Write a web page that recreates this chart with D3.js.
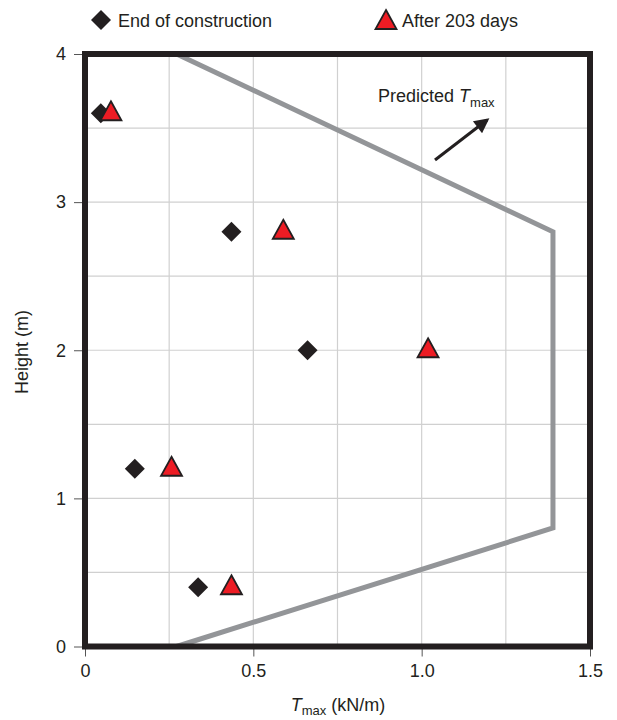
<!DOCTYPE html>
<html>
<head>
<meta charset="utf-8">
<script src="https://cdn.jsdelivr.net/npm/d3@7"></script>
<style>
  body { margin: 0; background: #fff; }
  text { font-family: "Liberation Sans", Arial, sans-serif; fill: #231f20; }
</style>
</head>
<body>
<div id="chart"></div>
<script>
// data
var heights = [3.6, 2.8, 2.0, 1.2, 0.4];
var endOfConstruction = [0.047, 0.435, 0.661, 0.148, 0.336];
var after203Days = [0.077, 0.589, 1.019, 0.257, 0.435];
var predictedT = [0.272, 1.39, 1.39, 0.272];
var predictedH = [0, 0.8, 2.8, 4.0];
var xTicks = [0, 0.5, 1.0, 1.5];
var xTickLabels = ["0", "0.5", "1.0", "1.5"];
var yTicks = [0, 1, 2, 3, 4];

var width = 617, height = 720;
var fontSize = 18;
var svg = d3.select("#chart").append("svg")
	.attr("width", width)
	.attr("height", height);

var x = d3.scaleLinear().domain([0, 1.5]).range([85, 590]);
var y = d3.scaleLinear().domain([0, 4]).range([646.5, 54]);

// grid
var grid = svg.append("g").attr("stroke", "#d0d0d0").attr("stroke-width", 1.2);
grid.selectAll(".gx")
	.data(d3.range(0.25, 1.5, 0.25))
	.enter().append("line")
	.attr("x1", function(d){ return x(d); })
	.attr("x2", function(d){ return x(d); })
	.attr("y1", y(4)).attr("y2", y(0));
grid.selectAll(".gy")
	.data(d3.range(0.5, 4, 0.5))
	.enter().append("line")
	.attr("x1", x(0)).attr("x2", x(1.5))
	.attr("y1", function(d){ return y(d); })
	.attr("y2", function(d){ return y(d); });

// axes
var xAxis = svg.append("g")
	.attr("transform", "translate(0," + y(0) + ")")
	.call(d3.axisBottom(x).tickValues(xTicks)
		.tickFormat(function(d, i){ return xTickLabels[i]; })
		.tickSize(10).tickPadding(8));
var yAxis = svg.append("g")
	.attr("transform", "translate(" + x(0) + ",0)")
	.call(d3.axisLeft(y).tickValues(yTicks).tickFormat(d3.format("d"))
		.tickSize(11).tickPadding(8));
[xAxis, yAxis].forEach(function(a){
	a.select(".domain").remove();
	a.selectAll(".tick line").attr("stroke", "#555").attr("stroke-width", 1);
	a.selectAll(".tick text").attr("font-size", fontSize).attr("fill", "#231f20")
		.attr("font-family", "Liberation Sans, Arial, sans-serif");
});

// predicted Tmax line
var line = d3.line()
	.x(function(d){ return x(d[0]); })
	.y(function(d){ return y(d[1]); });
svg.append("path")
	.datum(d3.zip(predictedT, predictedH))
	.attr("d", line)
	.attr("fill", "none")
	.attr("stroke", "#939598")
	.attr("stroke-width", 5)
	.attr("stroke-linecap", "round")
	.attr("stroke-linejoin", "miter");

// frame
svg.append("rect")
	.attr("x", x(0)).attr("y", y(4))
	.attr("width", x(1.5) - x(0)).attr("height", y(0) - y(4))
	.attr("fill", "none")
	.attr("stroke", "#231f20")
	.attr("stroke-width", 6);

// markers
var diamond = d3.symbol().type(d3.symbolSquare).size(200);
var triangle = "M0,-11L10.5,8L-10.5,8Z";

svg.selectAll(".eoc")
	.data(d3.zip(endOfConstruction, heights))
	.enter().append("path")
	.attr("d", diamond)
	.attr("transform", function(d){ return "translate(" + x(d[0]) + "," + y(d[1]) + ") rotate(45)"; })
	.attr("fill", "#231f20");

svg.selectAll(".after")
	.data(d3.zip(after203Days, heights))
	.enter().append("path")
	.attr("d", triangle)
	.attr("transform", function(d){ return "translate(" + x(d[0]) + "," + (y(d[1]) - 1) + ")"; })
	.attr("fill", "#ed1c24")
	.attr("stroke", "#231f20")
	.attr("stroke-width", 1.8)
	.attr("stroke-linejoin", "miter");

// annotation
var ann = svg.append("text").attr("x", 378).attr("y", 102).attr("font-size", fontSize);
ann.append("tspan").text("Predicted ");
ann.append("tspan").attr("font-style", "italic").text("T");
ann.append("tspan").attr("font-size", 13).attr("dy", 5).text("max");

svg.append("defs").append("marker")
	.attr("id", "head")
	.attr("viewBox", "0 0 10 10")
	.attr("refX", 8).attr("refY", 5)
	.attr("markerWidth", 6).attr("markerHeight", 5)
	.attr("markerUnits", "strokeWidth")
	.attr("orient", "auto")
	.append("path").attr("d", "M0,0L10,5L0,10Z").attr("fill", "#231f20");
svg.append("line")
	.attr("x1", 435).attr("y1", 160)
	.attr("x2", 487).attr("y2", 120)
	.attr("stroke", "#231f20")
	.attr("stroke-width", 3)
	.attr("marker-end", "url(#head)");

// legend
svg.append("path")
	.attr("d", diamond)
	.attr("transform", "translate(101,20) rotate(45)")
	.attr("fill", "#231f20");
svg.append("text").attr("x", 118).attr("y", 27).attr("font-size", fontSize).text("End of construction");
svg.append("path")
	.attr("d", triangle)
	.attr("transform", "translate(386,21)")
	.attr("fill", "#ed1c24")
	.attr("stroke", "#231f20")
	.attr("stroke-width", 1.8);
svg.append("text").attr("x", 402).attr("y", 27).attr("font-size", fontSize).text("After 203 days");

// axis titles
var xt = svg.append("text").attr("x", 338).attr("y", 711).attr("font-size", fontSize).attr("text-anchor", "middle");
xt.append("tspan").attr("font-style", "italic").text("T");
xt.append("tspan").attr("font-size", 13).attr("dy", 4).text("max");
xt.append("tspan").attr("dy", -4).text(" (kN/m)");

svg.append("text")
	.attr("transform", "translate(28,352) rotate(-90)")
	.attr("text-anchor", "middle")
	.attr("font-size", fontSize)
	.text("Height (m)");
</script>
</body>
</html>
